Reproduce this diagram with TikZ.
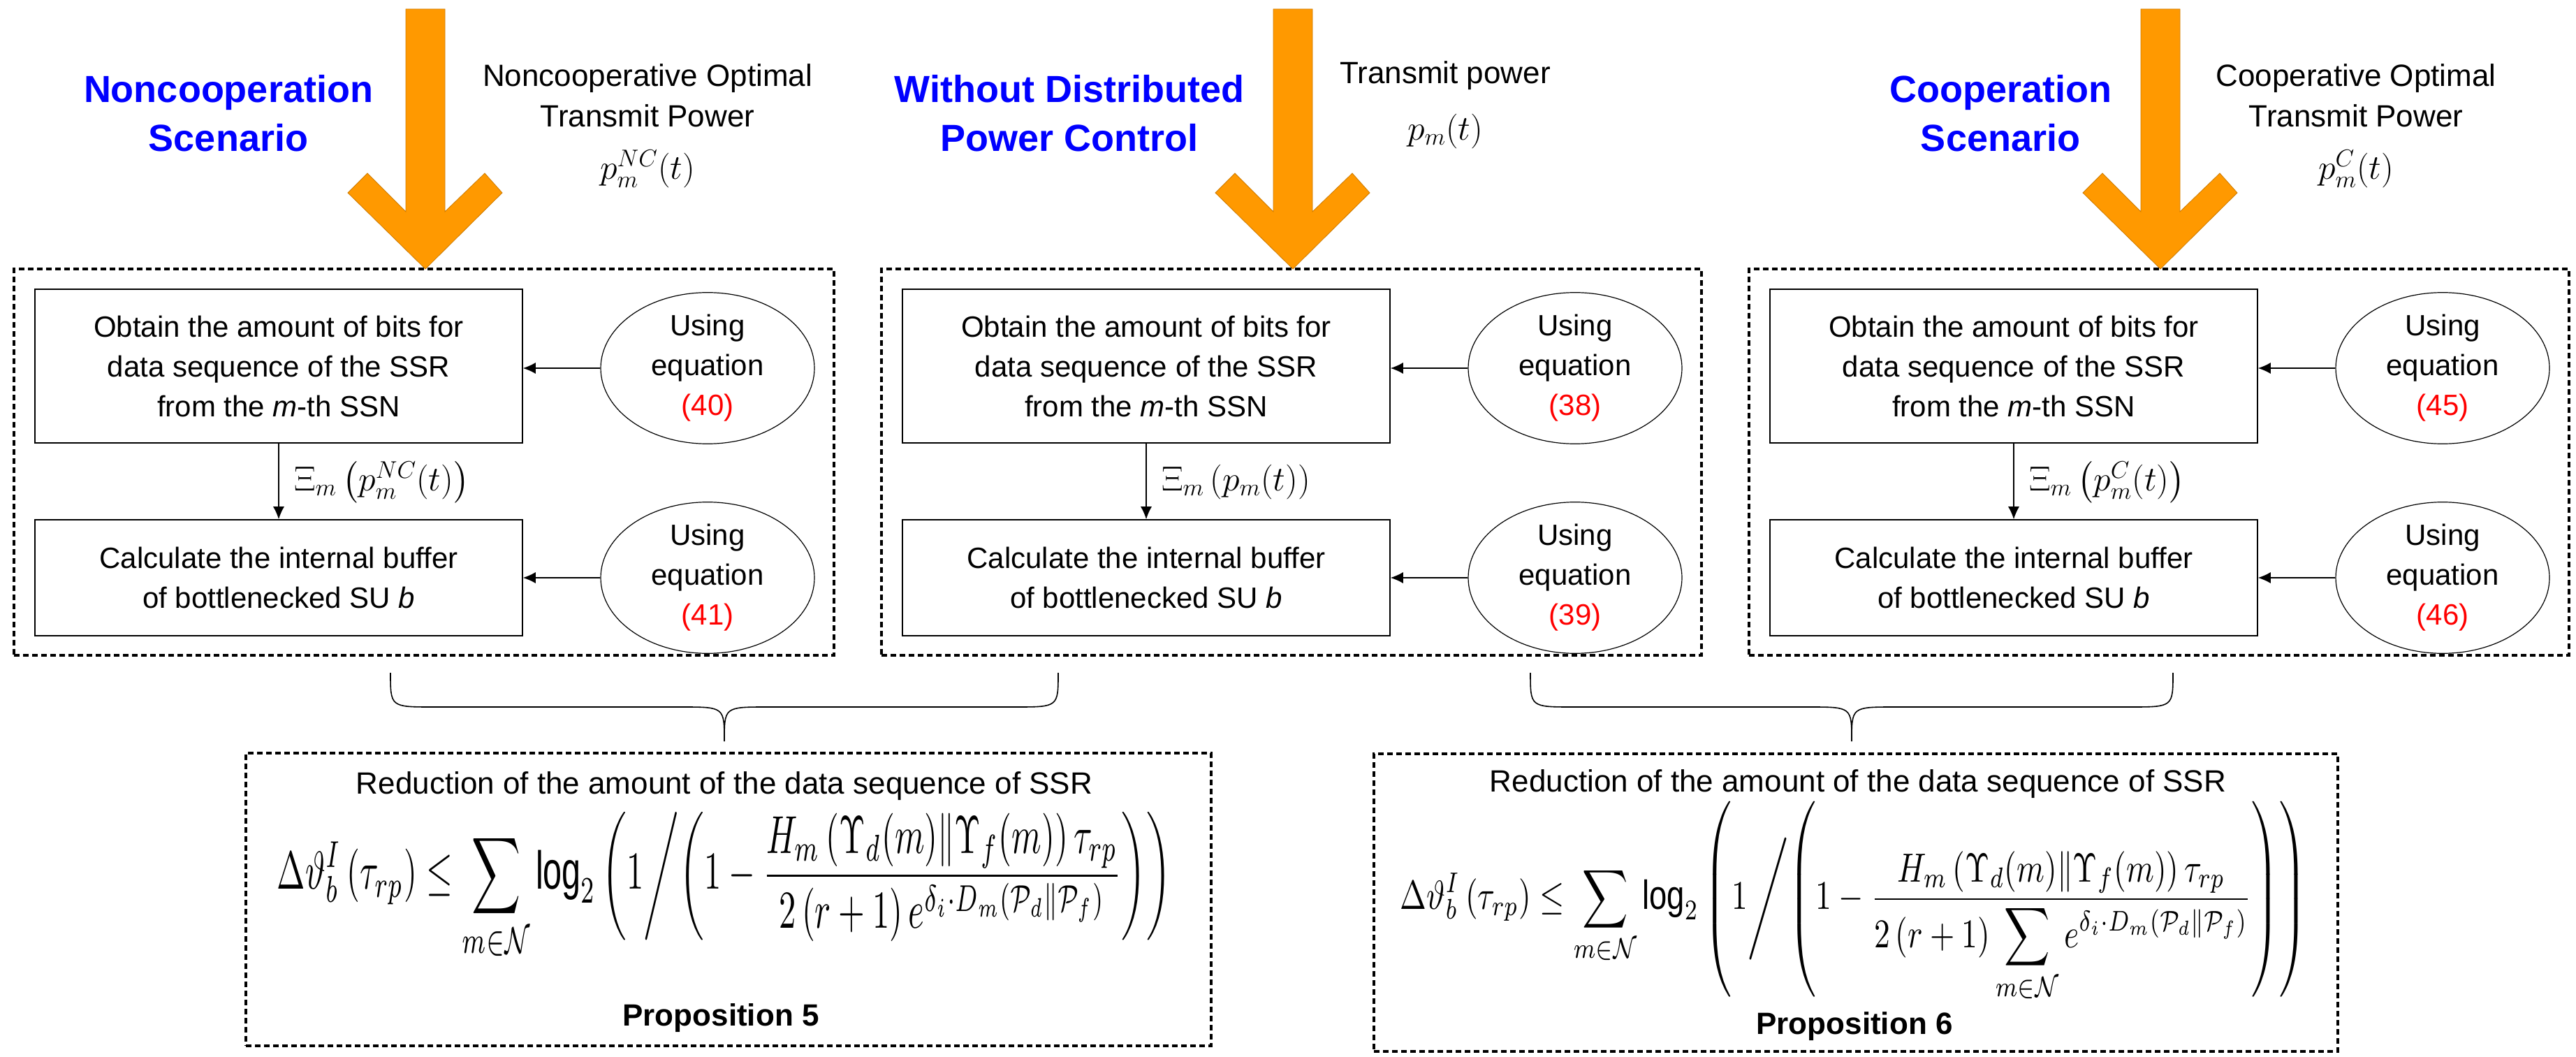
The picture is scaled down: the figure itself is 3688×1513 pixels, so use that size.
\documentclass[tikz,border=0pt]{standalone}
\usepackage{fontspec}
\usepackage{amsmath,graphicx}
\setmainfont{Liberation Sans}
\usetikzlibrary{arrows.meta,shapes.geometric}
\definecolor{arrowor}{HTML}{FF9900}
\definecolor{tblue}{HTML}{0000FF}
\begin{document}
\begin{tikzpicture}[x=0.5pt,y=-0.5pt,
  txt/.style={font=\fontsize{21}{28.5}\selectfont,align=center},
  blk/.style={draw,line width=0.8pt,minimum width=349pt,txt,inner sep=0pt},
  ell/.style={draw,ellipse,line width=0.6pt,minimum width=153pt,minimum height=99pt,txt,inner sep=0pt},
  dbox/.style={draw,line width=2.3pt,dash pattern=on 4pt off 2.5pt},
  con/.style={line width=0.6pt,-{Latex[length=9pt,width=8pt]}},
  ttl/.style={font=\fontsize{27}{35}\bfseries\selectfont,text=tblue,align=center},
  big/.style={font=\fontsize{22}{29}\selectfont,align=center},
  brace/.style={line width=0.8pt}]
\useasboundingbox (0,0) rectangle (3688,1513);
\foreach \i/\dx/\bx/\blue/\rx/\rtext/\ry/\fy/\p/\ea/\eb in {
 1/0/-282/{Noncooperation\\Scenario}/318/{Noncooperative Optimal\\Transmit Power}/137/242/{p_m^{NC}(t)}/40/41,
 2/1242/-320/{Without Distributed\\Power Control}/218/{Transmit power}/108/188/{p_m(t)}/38/39,
 3/2484/-229/{Cooperation\\Scenario}/280/{Cooperative Optimal\\Transmit Power}/137/242/{p_m^{C}(t)}/45/46}{
 \begin{scope}[shift={(\dx,0)}]
  \fill[arrowor,draw=arrowor!80!black,line width=0.4pt] (581,13) -- (637,13) -- (637,303) -- (694,248) -- (719,276) -- (609,385) -- (498,276) -- (526,248) -- (581,303) -- cycle;
  \node[ttl] (t\i) at (609+\bx,162) {\blue};
  \node[big] (r\i) at (609+\rx,\ry) {\rtext};
  \node[font=\fontsize{26}{30}\selectfont] (f\i) at (609+\rx,\fy) {$\p$};
  \node[dbox,minimum width=587pt,minimum height=276.5pt] (d\i) at (607,661.5) {};
  \node[blk,minimum height=110pt] (a\i) at (399,524) {Obtain the amount of bits for\\data sequence of the SSR\\from the \textit{m}-th SSN};
  \node[blk,minimum height=83pt] (b\i) at (399,827) {Calculate the internal buffer\\of bottlenecked SU \textit{b}};
  \node[ell] (e\i) at (1013,527) {Using\\equation\\\textcolor{red}{(\ea)}};
  \node[ell] (g\i) at (1013,827) {Using\\equation\\\textcolor{red}{(\eb)}};
  \draw[con] (e\i.west) -- (a\i.east|-e\i.west);
  \draw[con] (g\i.west) -- (b\i.east|-g\i.west);
  \draw[con] (a\i) -- (b\i);
  \node[anchor=west,font=\fontsize{26}{30}\selectfont] (x\i) at (414,690) {$\Xi_m\left(\p\right)$};
 \end{scope}}
% bottom boxes
\node[dbox,minimum width=691pt,minimum height=209.5pt] (p5) at (1043,1287.5) {};
\node[dbox,minimum width=690pt,minimum height=213pt] (p6) at (2657,1292) {};
\node[big] (r5) at (1037,1125) {Reduction of the amount of the data sequence of SSR};
\node[big] (r6) at (2660,1122) {Reduction of the amount of the data sequence of SSR};
\node[font=\fontsize{22}{26}\bfseries\selectfont] (q5) at (1032,1457) {Proposition 5};
\node[font=\fontsize{22}{26}\bfseries\selectfont] (q6) at (2655,1469) {Proposition 6};
\node[inner sep=0pt] (m5) at (1037,1269) {\resizebox*{640pt}{107pt}{$\displaystyle \Delta\vartheta_b^I\left(\tau_{rp}\right)\le\sum_{m\in\mathcal N}\log_2\left(1\middle/\left(1-\frac{H_m\left(\Upsilon_d(m)\middle\|\Upsilon_f(m)\right)\tau_{rp}}{2\left(r+1\right)e^{\delta_i\cdot D_m\left(\mathcal P_d\|\mathcal P_f\right)}}\right)\right)$}};
\node[inner sep=0pt] (m6) at (2654,1291) {\resizebox*{649pt}{144pt}{$\displaystyle \Delta\vartheta_b^I\left(\tau_{rp}\right)\le\sum_{m\in\mathcal N}\log_2\left(1\middle/\left(1-\frac{H_m\left(\Upsilon_d(m)\middle\|\Upsilon_f(m)\right)\tau_{rp}}{2\left(r+1\right)\displaystyle\sum_{m\in\mathcal N}e^{\delta_i\cdot D_m\left(\mathcal P_d\|\mathcal P_f\right)}}\right)\right)$}};
% braces
\coordinate (k5) at (1037,1061);
\coordinate (k6) at (2651,1061);
\draw[brace] (559,963) .. controls (559,1012) .. (620,1012) -- (976,1012) .. controls (1037,1012) .. (k5);
\draw[brace] (1515,963) .. controls (1515,1012) .. (1454,1012) -- (1098,1012) .. controls (1037,1012) .. (k5);
\draw[brace] (2191,963) .. controls (2191,1012) .. (2252,1012) -- (2590,1012) .. controls (2651,1012) .. (k6);
\draw[brace] (3111,963) .. controls (3111,1012) .. (3050,1012) -- (2712,1012) .. controls (2651,1012) .. (k6);
\end{tikzpicture}
\end{document}
